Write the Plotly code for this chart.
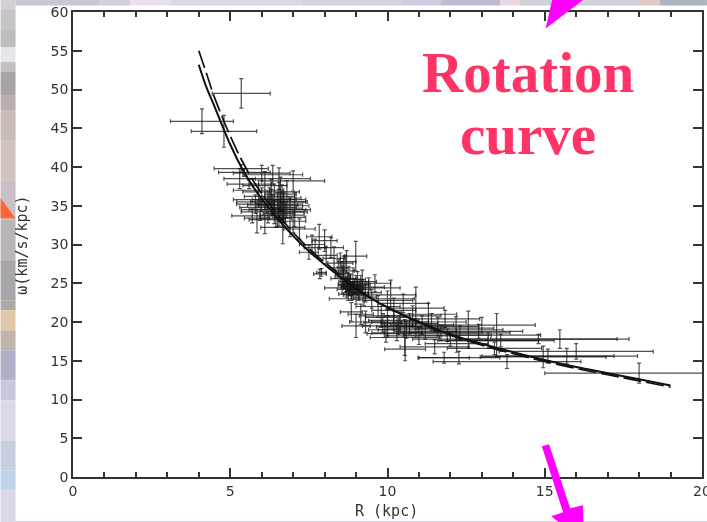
import plotly.graph_objects as go

# Rotation curve values
curve_R = [4.0,4.25,4.46,4.78,5,5.35,5.75,6.17,6.6,7.2,7.8,8.4,9,9.5,10,11,12,13,14,15,16,17,18,19]
solid_w = [53.2,50.2,48.2,45,42.9,40,37.3,35,32.9,30.3,28.1,26.1,24.3,23,21.9,20,18.4,17.2,16.1,15.1,14.2,13.4,12.6,11.8]
dash_w = [55,52,49.4,46.1,44,41,38.1,35.6,33.4,30.7,28.4,26.4,24.4,23,21.9,19.9,18.3,17,15.9,14.9,14,13.2,12.4,11.6]

# (R, omega, R error, omega error)
pts_sparse = [(5.35,49.5,.92,1.9),(4.1,45.9,1,1.6),(4.8,44.6,1.04,2.05)]
pts_inner = [
(5.35,39.8,.86,.5),(5.45,39.3,.82,.5),(5.6,37.8,.7,.6),(5.3,38.5,.5,1.3),(7.0,38.2,1.0,1.3),
(6.0,39.2,.9,1.0),(6.35,39,.95,1.2),(6.55,38.5,1.0,1.4),(5.9,37,.8,1.3),(6.1,37.6,.7,1.8),
(6.3,36.8,.9,1.6),(6.3,35.5,1.1,1.6),(6.4,34.2,1.05,1.5),(5.7,33.7,.65,.9),(5.85,33.4,.4,1.9),
(6.67,32.2,.7,2.1),(6.55,35.5,.9,2.5),(6.6,36.5,.5,2.2),(6.7,35,.8,1.8),(6.65,33.8,.7,1.6),
(6.2,34.8,.9,2),(6.4,35.8,.7,2),(6.5,34.5,.9,2.2),(7.05,34.5,.5,2.2),(6.8,35.8,.6,2.4),
(6.9,33.5,.5,2.5),(6.1,33.2,.5,1.8),(7.2,32,.5,1.3),(7.0,33,.4,1.5),(6.0,35.8,.9,1.5),
(5.8,35.2,.6,1.2),(6.25,36.2,.8,1.1),(6.75,34.2,.6,1.3),(6.45,33.4,.5,1.2),(5.95,34.5,.6,1.4),
(6.6,35.2,.7,1.5),(6.65,36,.6,1.7),(6.7,34.7,.6,1.9),(6.55,34,.5,1.6),(6.35,35.1,.8,1.3),
]
pts_mid = [
(7.83,31,.4,1.6),(7.6,30,.4,1.2),(7.5,29,.3,.9),(7.7,29.6,.35,1.1),(8.0,30.5,.4,1.4),
(8.2,29.6,.4,1.3),(8.05,28.6,.35,1.1),(8.3,28.2,.35,1.5),(8.5,27.6,.4,1.3),(8.7,27.8,.3,1.4),
(8.99,28.5,.35,1.9),(7.85,26.2,.2,.6),(7.9,26.4,.15,.5),(8.45,27,.3,1.1),(8.65,26.6,.3,2),
(8.6,25.6,.4,1.2),(8.75,25.2,.3,1.1),(8.8,24.8,.35,1.4),(8.7,24.2,.3,1),(8.9,25.5,.4,1.5),
(9,24.8,.4,1.2),(9.1,24.2,.35,1.3),(8.85,23.8,.3,1),(9,23.5,.4,1.2),(9.2,25.2,.45,1.5),
(9.2,24.4,1.2,1),(9.5,23,1.35,1.2),(9.3,23.8,.5,1.2),(9.4,24.5,.5,1.2),(9.6,25,.5,1.1),
(8.55,26.2,.2,1.6),(8.6,27,.2,1.5),(8.58,25.8,.25,1.4),(8.72,25,.2,.9),(8.78,24.5,.25,1),
(8.82,25,.2,1.1),(8.88,24.3,.3,.9),(8.92,24,.25,1.1),(8.95,24.6,.3,1),(9.05,25.2,.35,1.3),
(9.08,23.8,.3,1),(9.15,24.8,.3,1.2),(8.68,24.8,.25,.9),(8.75,23.6,.3,.8),(9.25,23.2,.4,1.1),
]
pts_outer = [
(10.1,23.5,.8,1.9),(10.9,21.8,.9,2.7),(8.85,21.3,.35,1.2),(9.0,19.5,.45,1.5),(9.15,21,.4,1.3),
(9.3,20,.5,1.4),(9.8,20.8,.7,1.5),(10,19.5,.8,1.3),(10.2,21.5,.7,1.6),(10.4,20,.9,1.3),
(10.6,19,.9,1.1),(10.3,18.6,.8,1),(10.56,16.5,.65,1.5),(9.9,19,.5,1),(10.55,18,1.1,2.3),
(9.7,22,.7,1.4),(10,22.8,.8,1.2),(10.5,22.4,.8,1.2),(10.8,20.8,.9,1.3),(11.1,19.6,1,1.2),
(11,18.2,1,1.1),(11.5,16.8,1.1,.9),(11.8,15.4,.8,.7),(11.3,21,.9,1.4),(11.83,20.4,1.1,1.1),
(11.6,19.4,1.3,1.2),(12.18,19.2,1.2,1.5),(12.57,19,1.1,2.4),(12,17.8,1.2,.9),(12.2,17.2,1,1.1),
(11.9,18.3,1.4,.8),(12.3,18.6,1.6,.9),(13,19.6,1.7,1),(13.47,18.3,1.4,2.8),(13.2,17.6,1.6,1),
(12.9,18.8,1.4,.9),(12.27,15.4,1.3,.8),(13.8,14.9,2.35,.9),(13.4,16.6,1.5,.8),(13.6,17.6,1.7,.8),
(14.8,17.8,2.5,.6),(15.48,17.8,2.2,1.2),(16,16.2,2.45,1),(15.7,15.6,2.25,1),(14.95,15.5,2,1.4),
(15.1,15.6,2.1,.9),(18,13.4,3,1.3),
(10.2,20.2,.8,1.2),(10.7,19.8,.9,1.3),(10.0,20.6,.7,1.1),(10.9,19.2,.9,1.2),(9.95,18.5,.6,1.1),
(10.35,19.4,.7,1),(9.85,19.9,.6,1.2),(11.2,18.8,1,1),(11.4,20,1.1,1.1),(11.7,18.6,1.2,1),
]
pts = pts_sparse + pts_inner + pts_mid + pts_outer
R = [p[0] for p in pts]
omega = [p[1] for p in pts]
R_err = [p[2] for p in pts]
omega_err = [p[3] for p in pts]

x_ticks = [0,5,10,15,20]
y_ticks = [0,5,10,15,20,25,30,35,40,45,50,55,60]

# Backdrop colours seen around the white slide panel
left_strip = [(0,10,"#d5d0d8"),(10,30,"#c5c5c8"),(30,47,"#bfbcc0"),(47,62,"#e8e6ea"),(62,72,"#c2c0c4"),
 (72,95,"#a8a4a6"),(95,110,"#b8b0b0"),(110,140,"#c8bcb8"),(140,180,"#cfc4c0"),(180,220,"#c8c0c8"),
 (220,260,"#b8b4b8"),(260,300,"#a8a6a8"),(300,310,"#b0a8a4"),(310,330,"#e0c8a8"),(330,350,"#c0b4ac"),
 (350,380,"#b0b0c8"),(380,400,"#c8c8dc"),(400,440,"#dcd8e8"),(440,470,"#c8d0e0"),(470,490,"#c0d4e8"),(490,522,"#d8d8e8")]
top_strip = [(15,100,"#c8c8d0"),(100,130,"#d0d0d8"),(130,170,"#eadfee"),(170,300,"#d8d8e8"),(300,400,"#d4d4e4"),
 (400,440,"#d0cce0"),(440,500,"#c0bcd0"),(500,520,"#e8d8e0"),(520,580,"#d0d0d8"),(580,640,"#d0d0d8"),
 (640,660,"#e0c8c8"),(660,707,"#b0b4c0")]

W, H = 707, 522
L, Rt, T, B = 72.5, 702, 12, 476.7
px = lambda x: (x-L)/(Rt-L)
py = lambda y: 1-(y-T)/(B-T)

def rect(x0,y0,x1,y1,c):
    return dict(type="rect",xref="paper",yref="paper",x0=px(x0),x1=px(x1),y0=py(y0),y1=py(y1),
                fillcolor=c,line_width=0,layer="below")
def poly(points,c):
    d = "M"+" L".join(f"{px(a):.5f},{py(b):.5f}" for a,b in points)+" Z"
    return dict(type="path",xref="paper",yref="paper",path=d,fillcolor=c,line_width=0,layer="above")

shapes = [rect(0,a,15,b,c) for a,b,c in left_strip]
shapes += [rect(a,0,b,5.5,c) for a,b,c in top_strip]
shapes += [rect(15,521,707,522,"#c8c8d4")]
shapes += [poly([(552,0),(583,0),(545.5,28.5)],"#ff00ff"),
           poly([(541.7,446),(549,444),(570,508),(583,505),(583,522),(559,522),(551,516),(563,512)],"#ff00ff"),
           poly([(0,198),(15,218),(0,218)],"#ff6633")]

fig = go.Figure()
fig.add_trace(go.Scatter(x=R,y=omega,mode="markers",marker=dict(size=1,color="#333"),cliponaxis=False,
    error_x=dict(type="data",array=R_err,thickness=1.2,width=2,color="rgba(20,20,20,0.75)"),
    error_y=dict(type="data",array=omega_err,thickness=1.2,width=2,color="rgba(20,20,20,0.75)")))
fig.add_trace(go.Scatter(x=curve_R,y=solid_w,mode="lines",line=dict(color="#111",width=2,shape="spline")))
fig.add_trace(go.Scatter(x=curve_R,y=dash_w,xaxis="x2",yaxis="y2",mode="lines",line=dict(color="#111",width=1.7,dash="18px,5px",shape="spline")))

common = dict(showgrid=False,zeroline=False,showline=True,linecolor="#333",linewidth=1.5,
            ticks="inside",tickcolor="#333",tickwidth=1.5,automargin=False)
axis = dict(common,ticklabeloverflow="allow",tickfont=dict(family="DejaVu Sans",size=14,color="#333"))
minor = dict(dtick=1,ticks="inside",ticklen=5,tickcolor="#333",tickwidth=1.5)
def label(x,y,text,**kw):
    return dict(xref="paper",yref="paper",x=px(x),y=py(y),text=text,showarrow=False,xanchor="center",yanchor="middle",**kw)
title_font = dict(family="Liberation Serif",size=57,color="#ff3366")
axis_font = dict(family="DejaVu Sans Mono",size=15,color="#333")
fig.update_layout(width=W,height=H,margin=dict(l=L,r=W-Rt,t=T,b=H-B,autoexpand=False),paper_bgcolor="white",plot_bgcolor="white",
    showlegend=False,shapes=shapes,
    xaxis=dict(axis,range=[0,20],tickvals=x_ticks,ticklen=9,minor=minor),
    yaxis=dict(axis,range=[0,60],tickvals=y_ticks,ticklen=9),
    xaxis2=dict(common,range=[0,20],tickvals=x_ticks,ticklen=9,minor=minor,overlaying="x",side="top",anchor="y2",showticklabels=False),
    yaxis2=dict(common,range=[0,60],tickvals=y_ticks,ticklen=9,overlaying="y",side="right",anchor="x2",showticklabels=False),
    annotations=[
      label(528,72,"<b>Rotation</b>",font=title_font),
      label(528,134,"<b>curve</b>",font=title_font),
      label(386,511,"R (kpc)",font=axis_font),
      label(22,245,"ω(km/s/kpc)",font=axis_font,textangle=-90),
    ])
fig.write_html("out.html",config=dict(displayModeBar=False),
    post_script="document.body.style.margin='0';document.documentElement.style.overflow='hidden';"
    "document.querySelectorAll('.cartesianlayer, .annotation[data-index=\"2\"], .annotation[data-index=\"3\"]').forEach(e=>{e.style.filter='blur(0.55px)';});")
